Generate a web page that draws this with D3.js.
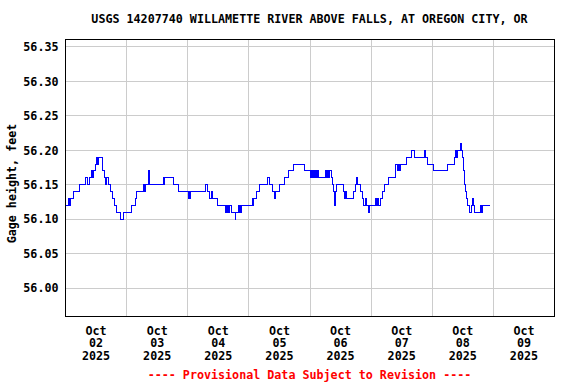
<!DOCTYPE html>
<html>
<head>
<meta charset="utf-8">
<script src="https://cdn.jsdelivr.net/npm/d3@7"></script>
<style>
  body { margin: 0; background: #fff; }
  text { font-family: "DejaVu Sans Mono", "Liberation Mono", monospace; font-weight: bold; font-size: 11.7px; }
</style>
</head>
<body>
<div id="chart-container"></div>
<script>
const title = "USGS 14207740 WILLAMETTE RIVER ABOVE FALLS, AT OREGON CITY, OR";
const yLabel = "Gage height, feet";
const footer = "---- Provisional Data Subject to Revision ----";

// hours after Oct 2 2025 00:00, gage height change points
const hours = [
  0, 1.3, 1.6, 2.0, 3.1, 5.5, 8.0, 8.8, 9.3, 10.2, 10.5, 10.8, 11.9, 12.3, 12.7, 13.1, 14.5, 15.4, 15.8, 16.1,
  16.9, 17.8, 18.5, 19.4, 20.2, 21.7, 22.6, 25.9, 27.4, 27.9, 30.5, 30.9, 31.3, 32.6, 33.1, 38.4, 38.7, 39.0,
  42.3, 44.5, 48.3, 48.7, 48.9, 49.2, 55.0, 55.6, 56.7, 57.2, 57.6, 59.7, 62.7, 63.0, 63.3, 63.6, 63.9, 64.2,
  65.3, 66.6, 66.9, 67.9, 68.2, 68.6, 68.9, 69.2, 73.4, 73.7, 74.0, 75.0, 76.3, 79.3, 80.0, 80.4, 81.2, 81.9,
  82.3, 84.2, 85.9, 87.6, 89.5, 94.0, 96.1, 96.5, 96.9, 97.3, 97.7, 98.1, 98.5, 98.9, 99.3, 102.0, 102.4,
  102.8, 103.3, 103.7, 104.6, 104.9, 105.2, 105.5, 105.8, 106.1, 106.6, 109.0, 109.6, 110.0, 110.3, 112.9,
  113.9, 114.4, 114.7, 116.0, 116.6, 117.0, 117.7, 118.0, 118.8, 119.4, 121.9, 122.2, 122.5, 122.8, 123.5,
  124.3, 125.2, 126.9, 129.4, 129.7, 130.3, 130.7, 131.2, 131.6, 133.9, 136.0, 137.0, 140.9, 141.2, 142.2,
  144.4, 149.8, 152.7, 153.3, 153.6, 154.0, 155.0, 155.5, 155.8, 156.1, 156.3, 156.5, 156.7, 156.9, 157.4,
  157.9, 158.6, 159.4, 159.9, 160.2, 160.6, 163.1, 163.4, 163.8, 166.7
];
const gage = [
  56.12, 56.13, 56.12, 56.13, 56.14, 56.15, 56.16, 56.15, 56.16, 56.17, 56.16, 56.17, 56.18, 56.19, 56.18, 56.19, 56.17, 56.16, 56.15, 56.16,
  56.15, 56.14, 56.13, 56.12, 56.11, 56.10, 56.11, 56.12, 56.13, 56.14, 56.15, 56.14, 56.15, 56.17, 56.15, 56.16, 56.15, 56.16,
  56.15, 56.14, 56.13, 56.14, 56.13, 56.14, 56.15, 56.14, 56.13, 56.14, 56.13, 56.12, 56.11, 56.12, 56.11, 56.12, 56.11, 56.12,
  56.11, 56.10, 56.11, 56.12, 56.11, 56.12, 56.11, 56.12, 56.13, 56.12, 56.13, 56.14, 56.15, 56.16, 56.15, 56.15, 56.14, 56.13,
  56.14, 56.15, 56.16, 56.17, 56.18, 56.17, 56.16, 56.17, 56.16, 56.17, 56.16, 56.17, 56.16, 56.17, 56.16, 56.17, 56.16,
  56.17, 56.16, 56.17, 56.16, 56.15, 56.14, 56.13, 56.12, 56.14, 56.15, 56.14, 56.13, 56.14, 56.13, 56.14,
  56.15, 56.16, 56.15, 56.14, 56.13, 56.12, 56.13, 56.12, 56.11, 56.12, 56.13, 56.12, 56.13, 56.12, 56.13,
  56.14, 56.15, 56.16, 56.17, 56.18, 56.17, 56.18, 56.17, 56.18, 56.19, 56.20, 56.19, 56.20, 56.19, 56.18,
  56.17, 56.18, 56.19, 56.20, 56.19, 56.20, 56.21, 56.20, 56.19, 56.18, 56.17, 56.16, 56.15, 56.14, 56.13,
  56.12, 56.11, 56.12, 56.13, 56.12, 56.11, 56.12, 56.11, 56.12, 56.12
];

const yTicks = [56.00, 56.05, 56.10, 56.15, 56.20, 56.25, 56.30, 56.35];
const dayLabels = ["02", "03", "04", "05", "06", "07", "08", "09"];

const margins = { top: 39, right: 22, bottom: 68, left: 65 };
const width = 576;
const height = 384;
const chartWidth = width - margins.left - margins.right;
const chartHeight = height - margins.top - margins.bottom;

const start = new Date(2025, 9, 2);
const end = new Date(2025, 9, 10);
const data = hours.map((h, i) => ({ t: new Date(start.getTime() + h * 3600e3), v: gage[i] }));

const xScale = d3.scaleTime().domain([start, end]).range([0, chartWidth]);
const yScale = d3.scaleLinear().domain([55.9587, 56.3608]).range([chartHeight, 0]);

const svg = d3
  .select("#chart-container")
  .append("svg")
  .attr("width", width)
  .attr("height", height);

const chart = svg.append("g")
  .attr("transform", `translate(${margins.left + 0.5}, ${margins.top + 0.5})`);

// grid
const days = d3.timeDay.range(d3.timeDay.offset(start, 1), end);
chart.append("g")
  .selectAll("line.vgrid")
  .data(days)
  .enter()
  .append("line")
  .attr("x1", d => Math.round(xScale(d)))
  .attr("x2", d => Math.round(xScale(d)))
  .attr("y1", 0)
  .attr("y2", chartHeight)
  .attr("stroke", "#cccccc")
  .attr("shape-rendering", "crispEdges");

chart.append("g")
  .selectAll("line.hgrid")
  .data(yTicks)
  .enter()
  .append("line")
  .attr("x1", 0)
  .attr("x2", chartWidth)
  .attr("y1", d => Math.round(yScale(d)))
  .attr("y2", d => Math.round(yScale(d)))
  .attr("stroke", "#cccccc")
  .attr("shape-rendering", "crispEdges");

// y axis labels
const yAxis = d3.axisLeft(yScale).tickValues(yTicks).tickSize(0).tickPadding(7).tickFormat(d3.format(".2f"));
chart.append("g")
  .call(yAxis)
  .call(g => g.select(".domain").remove())
  .call(g => g.selectAll("text").attr("fill", "#000"));
svg.selectAll(".tick text").attr("font-family", null).attr("font-size", null);
svg.selectAll("g").attr("font-family", null).attr("font-size", null);

// series
const line = d3.line()
  .x(d => xScale(d.t))
  .y(d => yScale(d.v))
  .curve(d3.curveStepAfter);

chart.append("path")
  .datum(data)
  .attr("d", line)
  .attr("fill", "none")
  .attr("stroke", "#0000ff")
  .attr("stroke-width", 1)
  .attr("shape-rendering", "crispEdges");

// frame
chart.append("rect")
  .attr("x", 0)
  .attr("y", 0)
  .attr("width", chartWidth)
  .attr("height", chartHeight)
  .attr("fill", "none")
  .attr("stroke", "#000")
  .attr("shape-rendering", "crispEdges");

// x labels at noon of each day
const noons = dayLabels.map((d, i) => d3.timeHour.offset(d3.timeDay.offset(start, i), 12));
const xl = chart.append("g")
  .selectAll("text.xl")
  .data(noons)
  .enter()
  .append("text")
  .attr("text-anchor", "middle")
  .attr("fill", "#000")
  .attr("x", d => xScale(d));
xl.append("tspan").attr("x", d => xScale(d)).attr("y", chartHeight + 18).text("Oct");
xl.append("tspan").attr("x", d => xScale(d)).attr("y", chartHeight + 30.7).text((d, i) => dayLabels[i]);
xl.append("tspan").attr("x", d => xScale(d)).attr("y", chartHeight + 43.5).text("2025");

// titles
svg.append("text")
  .attr("x", margins.left + chartWidth / 2)
  .attr("y", 23)
  .attr("text-anchor", "middle")
  .text(title);

svg.append("text")
  .attr("transform", `translate(12, ${margins.top + chartHeight / 2 + 6}) rotate(-90)`)
  .attr("text-anchor", "middle")
  .attr("dy", "0.35em")
  .text(yLabel);

svg.append("text")
  .attr("x", margins.left + chartWidth / 2)
  .attr("y", 379)
  .attr("text-anchor", "middle")
  .attr("fill", "#ff0000")
  .text(footer);
</script>
</body>
</html>
